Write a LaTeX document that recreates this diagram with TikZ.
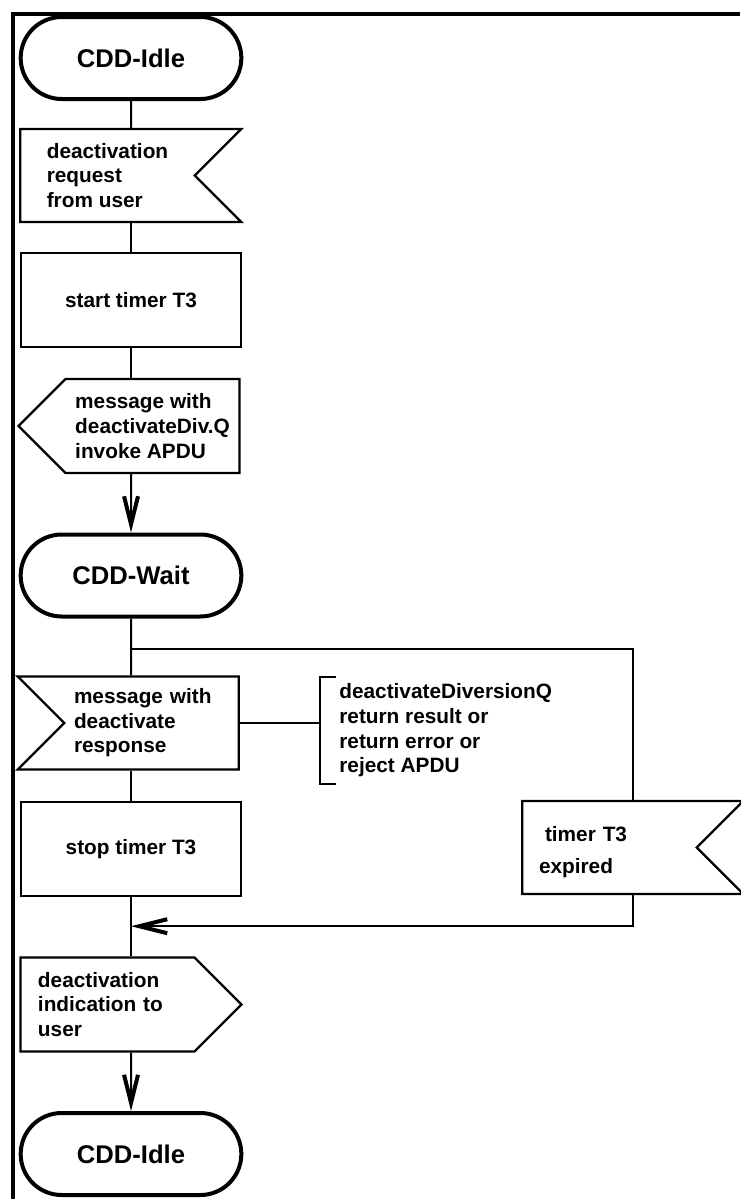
\documentclass[tikz,border=0pt]{standalone}
\usepackage{fontspec}
\setmainfont{Liberation Sans}
\usetikzlibrary{arrows.meta, positioning, shapes.misc, shapes.symbols}

\begin{document}
\begin{tikzpicture}[
    x=0.5pt, y=-0.5pt,
    font=\fontsize{10.4}{12.3}\selectfont\bfseries,
    state/.style={rounded rectangle, draw, line width=2pt, minimum width=117pt, minimum height=41pt, font=\fontsize{12.8}{15}\selectfont\bfseries},
    task/.style={rectangle, draw, line width=1.2pt, minimum width=110pt, minimum height=47pt},
    insig/.style={signal, draw, line width=1.2pt, signal to=nowhere, minimum width=110.5pt, minimum height=46.5pt, align=left},
    outsig/.style={signal, draw, line width=1.2pt, signal from=nowhere, minimum width=110.5pt, minimum height=47pt, align=left},
    note/.style={minimum height=53.5pt, inner xsep=9.5pt, inner ysep=1pt, align=left},
    flow/.style={line width=1pt},
    arrow/.style={flow, -{Straight Barb[length=14pt, width=7pt, line width=2pt]}}
]
\useasboundingbox (0,0) rectangle (740,1199);

\node[state] (idle1) at (131,58) {CDD-Idle};
\node[insig, signal from=east] (req) at (107.5,175.5) {deactivation\\request\\from user};
\node[task] (start) at (131,300) {start timer T3};
\node[outsig, signal to=west] (invoke) at (152.5,426) {message with\\deactivateDiv.Q\\invoke APDU};
\node[state] (wait) at (131,575.5) {CDD-Wait};
\coordinate[below=15pt of wait] (fork);
\node[insig, signal from=west, text width=77.5pt] (resp) at (151.5,723) {message with\\deactivate\\response};
\node[note, right=40pt of resp, yshift=-3.75pt] (ret) {deactivateDiversionQ\\return result or\\return error or\\reject APDU};
\node[task] (stop) at (131,849) {stop timer T3};
\coordinate[below=14.5pt of stop] (join);
\node[insig, signal from=east, text width=70.5pt] (expired) at (609.5,847.5) {\rule{0pt}{12pt}\hspace{3pt}timer T3\\[4pt]expired};
\node[outsig, signal to=east, text width=69.5pt] (ind) at (107.5,1004.5) {deactivation\\indication to\\user};
\node[state] (idle2) at (131,1154) {CDD-Idle};

\draw[flow] (idle1) -- (idle1 |- req.north);
\draw[flow] (start |- req.south) -- (start);
\draw[flow] (start) -- (start |- invoke.north);
\draw[arrow] (wait |- invoke.south) -- (wait);
\draw[flow] (wait) -- (wait |- resp.north);
\draw[flow] (fork) -| ([xshift=11.75pt]expired.north);
\draw[flow] (resp.east) -- (resp.east -| ret.west);
\draw[flow] ([xshift=8pt]ret.north west) -- (ret.north west) -- (ret.south west) -- ([xshift=8pt]ret.south west);
\draw[flow] (stop |- resp.south) -- (stop);
\draw[flow] (stop) -- (stop |- ind.north);
\draw[arrow] ([xshift=11.75pt]expired.south) |- (join);
\draw[arrow] (idle2 |- ind.south) -- (idle2);

% frame
\draw[line width=2pt] (13,1199) -- (13,14) -- (740,14);
\end{tikzpicture}
\end{document}
